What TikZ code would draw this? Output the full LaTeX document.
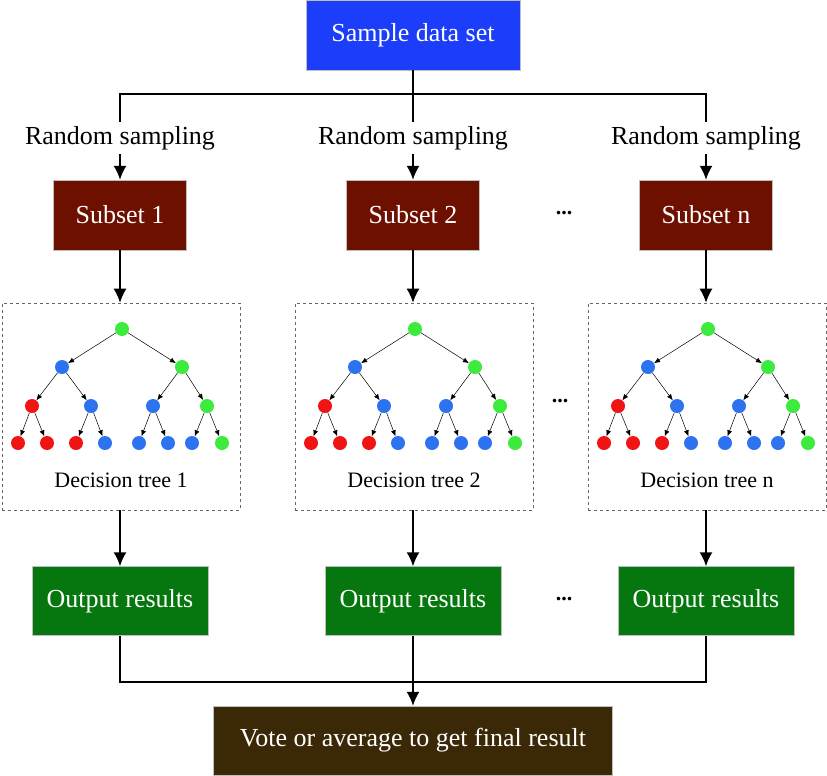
\documentclass[tikz,border=0pt]{standalone}
\usepackage{fontspec}
\setmainfont{Liberation Serif}
\usetikzlibrary{arrows, arrows.meta}
\usetikzlibrary{shapes}
\definecolor{sampleblue}{RGB}{28,62,250}
\definecolor{subsetred}{RGB}{110,16,0}
\definecolor{outgreen}{RGB}{6,118,14}
\definecolor{votebrown}{RGB}{58,40,6}
\definecolor{leafgreen}{RGB}{60,235,60}
\definecolor{leafblue}{RGB}{45,115,240}
\definecolor{leafred}{RGB}{240,20,20}
\tikzset{
  box/.style={rectangle, text=white, draw=gray!50, line width=0.5pt, inner sep=0pt,
    font=\fontsize{26}{30}\selectfont},
  label txt/.style={inner sep=4pt, font=\fontsize{26}{30}\selectfont},
  treebox/.style={rectangle, draw=black!60, dashed, line width=0.6pt,
    minimum width=238pt, minimum height=207pt},
  leaf/.style={circle, minimum size=14pt, inner sep=0pt},
  edge/.style={-{Latex[length=6pt,width=5pt]}, line width=0.5pt},
  link/.style={line width=1.5pt},
  link arrow/.style={line width=1.5pt, -{Latex[length=14pt,width=13pt]}}
}

\begin{document}
\begin{tikzpicture}[x=1pt, y=-1pt]
  \useasboundingbox (0,0) rectangle (827,776);
  \node[box, fill=sampleblue, minimum width=214pt, minimum height=70pt] (sample) at (413,35) {Sample data set};
  \node[box, fill=votebrown, minimum width=399pt, minimum height=69pt] (vote) at (413,740.5) {Vote or average to get final result};

  \foreach \i/\x/\lab in {1/120/1, 2/413/2, 3/706/n} {
    \node[label txt] (rs\i) at (\x,138) {Random sampling};
    \node[box, fill=subsetred, minimum width=133pt, minimum height=70pt] (sub\i) at (\x,215) {Subset \lab};
    \node[treebox] (tb\i) at (\x+1,406.5) {};
    \node[box, fill=outgreen, minimum width=176pt, minimum height=69pt] (out\i) at (\x,601) {Output results};
    \draw[link arrow] (rs\i.south) -- (sub\i.north);
    \draw[link arrow] (sub\i.south) -- (sub\i.south |- tb\i.north);
    \draw[link arrow] (out\i.north |- tb\i.south) -- (out\i.north);
    \begin{scope}[shift={(\x,0)}]
      % the tree
      \node[leaf, fill=leafgreen] (r\i) at (2,329) {};
      \node[leaf, fill=leafblue] (a\i) at (-58,367) {};
      \node[leaf, fill=leafgreen] (b\i) at (62,367) {};
      \node[leaf, fill=leafred] (c\i) at (-88,406) {};
      \node[leaf, fill=leafblue] (d\i) at (-29,406) {};
      \node[leaf, fill=leafblue] (e\i) at (33,406) {};
      \node[leaf, fill=leafgreen] (f\i) at (87,406) {};
      \draw[edge] (r\i) -- (a\i);
      \draw[edge] (r\i) -- (b\i);
      \draw[edge] (a\i) -- (c\i);
      \draw[edge] (a\i) -- (d\i);
      \draw[edge] (b\i) -- (e\i);
      \draw[edge] (b\i) -- (f\i);
      \foreach \k/\dx/\col/\p in {1/-102/leafred/c, 2/-73/leafred/c, 3/-44/leafred/d, 4/-15/leafblue/d,
          5/19/leafblue/e, 6/48/leafblue/e, 7/72/leafblue/f, 8/102/leafgreen/f} {
        \node[leaf, fill=\col] (l\i\k) at (\dx,443) {};
        \draw[edge] (\p\i) -- (l\i\k);
      }
      \node[font=\fontsize{22}{26}\selectfont] (dt\i) at (1,480) {Decision tree \lab};
    \end{scope}
  }

  % sampling lines
  \coordinate (j1) at (120,94);
  \coordinate (j3) at (706,94);
  \draw[link] (sample.south) -- (rs2.north);
  \draw[link] (rs1.north) -- (j1) -- (j3) -- (rs3.north);

  % collecting lines
  \coordinate (k1) at (120,682);
  \coordinate (k3) at (706,682);
  \draw[link] (out1.south) -- (k1) -- (k3) -- (out3.south);
  \draw[link arrow] (out2.south) -- (vote.north);

  \node[font=\fontsize{22}{26}\selectfont\bfseries] (dots1) at (564,213) {...};
  \node[font=\fontsize{22}{26}\selectfont\bfseries] (dots2) at (560,401) {...};
  \node[font=\fontsize{22}{26}\selectfont\bfseries] (dots3) at (564,599) {...};
\end{tikzpicture}
\end{document}
